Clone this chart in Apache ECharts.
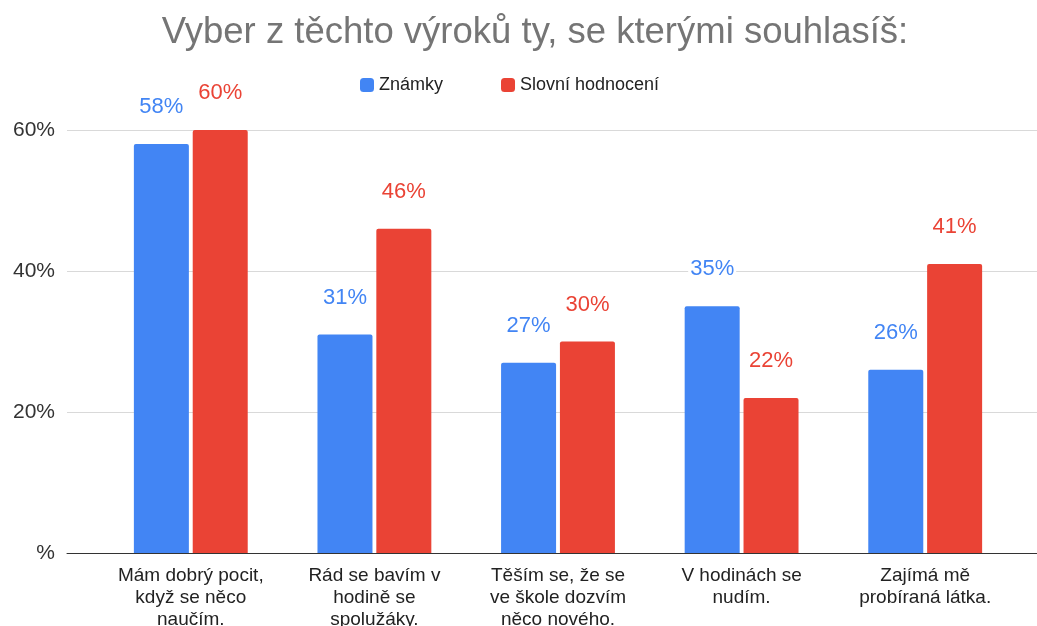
<!DOCTYPE html>
<html>
<head>
<meta charset="utf-8">
<script src="https://cdn.jsdelivr.net/npm/echarts@6/dist/echarts.min.js"></script>
<style>
  html, body { margin: 0; padding: 0; background: #fff; }
  #chart { width: 1037px; height: 626px; }
</style>
</head>
<body>
<div id="chart"></div>
<script>
// data
const categories = [
  'Mám dobrý pocit,\nkdyž se něco\nnaučím.',
  'Rád se bavím v\nhodině se\nspolužáky.',
  'Těším se, že se\nve škole dozvím\nněco nového.',
  'V hodinách se\nnudím.',
  'Zajímá mě\nprobíraná látka.'
]
const znamky = [58, 31, 27, 35, 26]
const slovni = [60, 46, 30, 22, 41]
const yTicks = [0, 20, 40, 60]

const blue = '#4285f4'
const red = '#ea4335'
const font = '"Liberation Sans", Arial, sans-serif'

const chart = echarts.init(document.getElementById('chart'))

const barLabel = (color) => ({
  show: true,
  position: 'top',
  distance: 26,
  formatter: '{c}%',
  color: color,
  fontFamily: font,
  fontSize: 22,
  backgroundColor: '#fff',
  padding: [0, 2]
})

const option = {
  backgroundColor: '#fff',
  animation: false,
  title: {
    text: 'Vyber z těchto výroků ty, se kterými souhlasíš:',
    left: 530,
    textAlign: 'center',
    top: 9,
    textStyle: { fontFamily: font, fontWeight: 'normal', fontSize: 36.5, color: '#757575' }
  },
  legend: {
    top: 71,
    left: 355,
    itemWidth: 14,
    itemHeight: 14,
    itemGap: 58,
    icon: 'roundRect',
    textStyle: { fontFamily: font, fontSize: 18, color: '#222' },
    data: ['Známky', 'Slovní hodnocení']
  },
  grid: [
    // background grid: gridlines and y labels
    { left: 67, right: 0, top: 130, bottom: 73, outerBoundsMode: 'none' },
    // bars
    { left: 99, right: 20, top: 130, bottom: 73, outerBoundsMode: 'none' }
  ],
  xAxis: [
    {
      gridIndex: 0,
      type: 'value',
      min: 0,
      max: 1,
      axisLine: { show: true, lineStyle: { color: '#333', width: 1 } },
      axisTick: { show: false },
      axisLabel: { show: false },
      splitLine: { show: false }
    },
    {
      gridIndex: 1,
      type: 'category',
      data: categories,
      axisLine: { show: false },
      axisTick: { show: false },
      axisLabel: {
        interval: 0,
        margin: 12,
        lineHeight: 22,
        fontFamily: font,
        fontSize: 19,
        color: '#222'
      }
    }
  ],
  yAxis: [
    {
      gridIndex: 0,
      type: 'value',
      min: yTicks[0],
      max: yTicks[yTicks.length - 1],
      interval: 20,
      axisLine: { show: false },
      axisTick: { show: false },
      axisLabel: {
        margin: 12,
        fontFamily: font,
        fontSize: 21,
        color: '#333',
        formatter: (v) => (v === 0 ? '%' : v + '%')
      },
      splitLine: { lineStyle: { color: '#d9d9d9', width: 1 } }
    },
    {
      gridIndex: 1,
      type: 'value',
      min: yTicks[0],
      max: yTicks[yTicks.length - 1],
      interval: 20,
      show: false,
      splitLine: { show: false }
    }
  ],
  series: [
    {
      name: 'Známky',
      type: 'bar',
      xAxisIndex: 1,
      yAxisIndex: 1,
      data: znamky,
      barWidth: 55,
      barGap: '7%',
      itemStyle: { color: blue, borderRadius: [2, 2, 0, 0] },
      label: barLabel(blue)
    },
    {
      name: 'Slovní hodnocení',
      type: 'bar',
      xAxisIndex: 1,
      yAxisIndex: 1,
      data: slovni,
      barWidth: 55,
      barGap: '7%',
      itemStyle: { color: red, borderRadius: [2, 2, 0, 0] },
      label: barLabel(red)
    }
  ]
}

chart.setOption(option)
</script>
</body>
</html>
